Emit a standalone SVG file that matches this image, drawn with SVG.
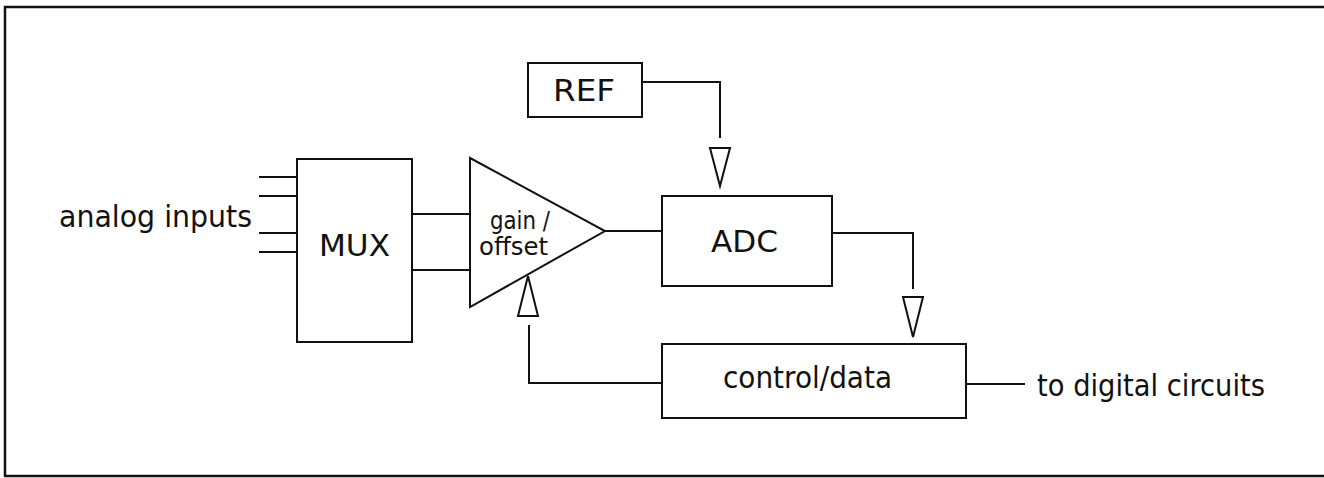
<svg xmlns="http://www.w3.org/2000/svg" width="1324" height="478" viewBox="0 0 1324 478">
<style>
.box{fill:#fff;stroke:#111;stroke-width:2}
.ln{fill:none;stroke:#111;stroke-width:2}
.arr{fill:#fff;stroke:#111;stroke-width:2;stroke-linejoin:miter}
.t{font-family:"DejaVu Sans","Liberation Sans",sans-serif;font-size:30px;fill:#111}
.s{font-size:25px}
</style>
<rect x="0" y="0" width="1324" height="478" fill="#fff"/>
<rect x="5" y="7" width="1340" height="469" fill="none" stroke="#111" stroke-width="2.5"/>
<g id="analog-inputs">
<text class="t" x="59" y="227" textLength="193" lengthAdjust="spacingAndGlyphs">analog inputs</text>
</g>
<g id="mux">
<rect class="box" x="297" y="159" width="115" height="183"/>
<text class="t" x="319" y="256" textLength="71" lengthAdjust="spacingAndGlyphs">MUX</text>
</g>
<g id="amp">
<polygon class="box" points="470,158 605,231 470,307" stroke-width="1.8"/>
<text class="t s" x="490" y="229" textLength="60" lengthAdjust="spacingAndGlyphs">gain /</text>
<text class="t s" x="479" y="255" textLength="69" lengthAdjust="spacingAndGlyphs">offset</text>
</g>
<g id="ref">
<rect class="box" x="528" y="63" width="114" height="54"/>
<text class="t" x="553" y="101" textLength="62" lengthAdjust="spacingAndGlyphs">REF</text>
</g>
<g id="adc">
<rect class="box" x="662" y="196" width="170" height="90"/>
<text class="t" x="711" y="252" textLength="67" lengthAdjust="spacingAndGlyphs">ADC</text>
</g>
<g id="control">
<rect class="box" x="662" y="344" width="304" height="74"/>
<text class="t" x="723" y="388" textLength="169" lengthAdjust="spacingAndGlyphs">control/data</text>
</g>
<g id="digital">
<text class="t" x="1037" y="396" textLength="228" lengthAdjust="spacingAndGlyphs">to digital circuits</text>
</g>
<g id="connectors">
<path class="ln" d="M259 177H297M259 196H297M259 233H297M259 252H297"/>
<path class="ln" d="M412 214H470M412 270H470"/>
<path class="ln" d="M605 231H662"/>
<path class="ln" d="M642 82H720V138"/>
<polygon class="arr" points="710,148 730,148 720,186"/>
<path class="ln" d="M832 233H913V289"/>
<polygon class="arr" points="903,297 923,297 913,337"/>
<path class="ln" d="M662 383H529V325"/>
<polygon class="arr" points="518,316 538,316 528,276"/>
<path class="ln" d="M966 384H1025"/>
</g>
</svg>
